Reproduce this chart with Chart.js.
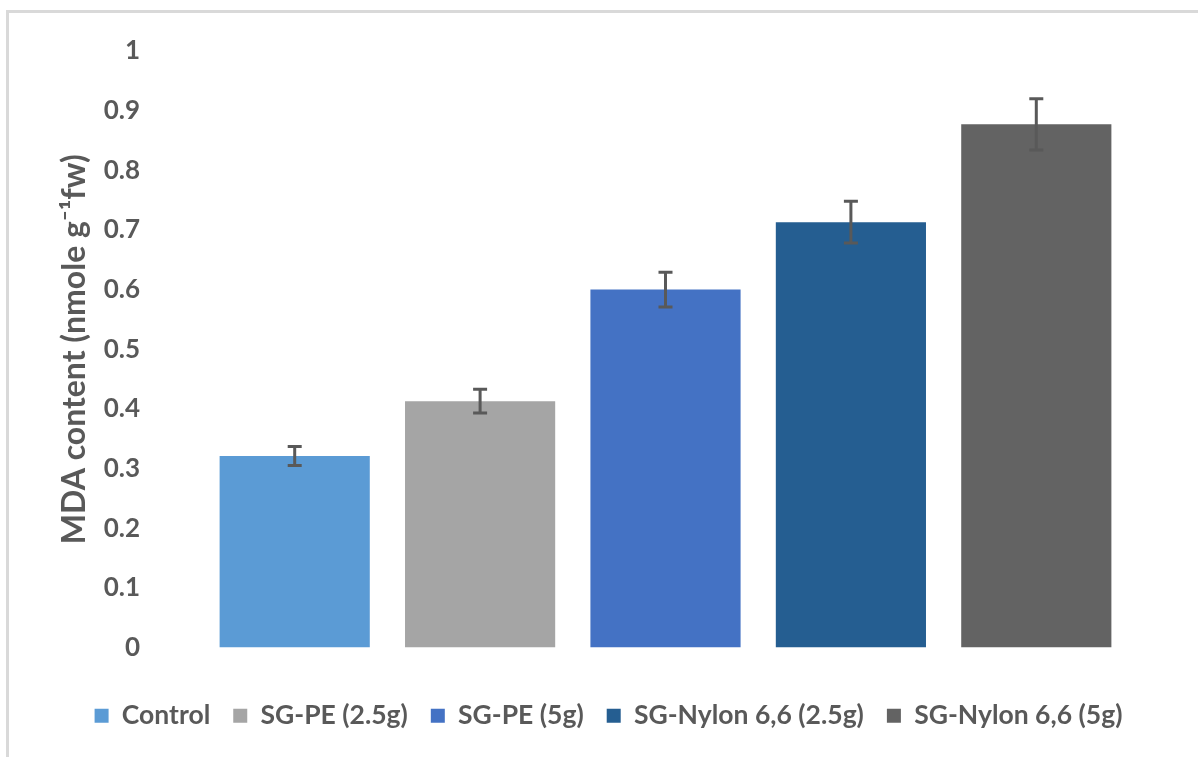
<!DOCTYPE html>
<html>
<head>
<meta charset="utf-8">
<script src="https://cdn.jsdelivr.net/npm/chart.js"></script>
<style>
  body { margin: 0; background: #fff; }
  #wrap { position: relative; width: 1198px; height: 757px; }
  #frame { position: absolute; left: 6px; top: 10px; right: 0; bottom: 0;
           border-top: 3px solid #d9d9d9; border-left: 3px solid #d9d9d9; }
  canvas { position: absolute; left: 0; top: 0; }
</style>
</head>
<body>
<div id="wrap">
  <div id="frame"></div>
  <canvas id="myChart" width="1198" height="757"></canvas>
</div>
<script>
const categories = ['Control', 'SG-PE (2.5g)', 'SG-PE (5g)', 'SG-Nylon 6,6 (2.5g)', 'SG-Nylon 6,6 (5g)'];
const mdaValues = [0.321, 0.413, 0.600, 0.713, 0.877];
const mdaErrors = [0.016, 0.020, 0.029, 0.035, 0.043];
const yTicks = [0, 0.1, 0.2, 0.3, 0.4, 0.5, 0.6, 0.7, 0.8, 0.9, 1];
const barColors = ['#5b9bd5', '#a5a5a5', '#4472c4', '#255e91', '#636363'];

const textGrey = '#595959';
const fontFamily = 'Lato, "Open Sans", sans-serif';

// error bars drawn on top of the bars, using the chart's own scales
const errorBars = {
    id: 'errorBars',
    afterDatasetsDraw(chart) {
        const ctx = chart.ctx;
        const y = chart.scales.y;
        const meta = chart.getDatasetMeta(0);
        ctx.save();
        ctx.strokeStyle = textGrey;
        ctx.lineWidth = 3;
        meta.data.forEach((bar, i) => {
            const top = y.getPixelForValue(mdaValues[i] + mdaErrors[i]);
            const bottom = y.getPixelForValue(mdaValues[i] - mdaErrors[i]);
            ctx.beginPath();
            ctx.moveTo(bar.x, top);
            ctx.lineTo(bar.x, bottom);
            ctx.moveTo(bar.x - 7, top);
            ctx.lineTo(bar.x + 7, top);
            ctx.moveTo(bar.x - 7, bottom);
            ctx.lineTo(bar.x + 7, bottom);
            ctx.stroke();
        });
        ctx.restore();
    }
};

// nudge the legend right, like the original
const legendShift = {
    id: 'legendShift',
    afterLayout(chart) {
        chart.legend.left += 44;
        chart.legend.right += 44;
    }
};

const ctx = document.getElementById('myChart').getContext('2d');
new Chart(ctx, {
    type: 'bar',
    data: {
        labels: categories,
        datasets: [{
            label: 'MDA content',
            data: mdaValues,
            backgroundColor: barColors,
            borderWidth: 0,
            categoryPercentage: 0.81,
            barPercentage: 1
        }]
    },
    options: {
        responsive: false,
        animation: false,
        layout: { padding: { top: 51, right: 69, bottom: 18, left: 0 } },
        plugins: {
            tooltip: { enabled: false },
            legend: {
                position: 'bottom',
                title: {
                    display: true,
                    text: ' ',
                    font: { size: 10 },
                    padding: { top: 0, bottom: 20 }
                },
                labels: {
                    boxWidth: 14,
                    boxHeight: 14,
                    padding: 23,
                    color: textGrey,
                    font: { family: fontFamily, size: 26.5, weight: 'bold' },
                    generateLabels: () => categories.map((c, i) => ({
                        text: c,
                        fillStyle: barColors[i],
                        strokeStyle: barColors[i],
                        lineWidth: 0,
                        fontColor: textGrey,
                        index: i
                    }))
                }
            }
        },
        scales: {
            x: {
                grid: { display: false, drawTicks: false },
                border: { display: false },
                ticks: { display: false }
            },
            y: {
                min: 0,
                max: 1,
                afterBuildTicks: (axis) => { axis.ticks = yTicks.map(v => ({ value: v })); },
                afterFit: (axis) => {
                    axis.width = 202;
                    axis.paddingTop = 0;
                    axis.paddingBottom = 0;
                },
                grid: { display: false, drawTicks: false },
                border: { display: false },
                ticks: {
                    padding: 62,
                    color: textGrey,
                    font: { family: fontFamily, size: 26, weight: 'bold' },
                    callback: (v) => String(v)
                },
                title: {
                    display: true,
                    text: 'MDA content (nmole g\u207B\u00B9fw)',
                    color: textGrey,
                    font: { family: fontFamily, size: 32, weight: 'bold' },
                    padding: { top: 55, bottom: 0 }
                }
            }
        }
    },
    plugins: [errorBars, legendShift]
});
</script>
</body>
</html>
